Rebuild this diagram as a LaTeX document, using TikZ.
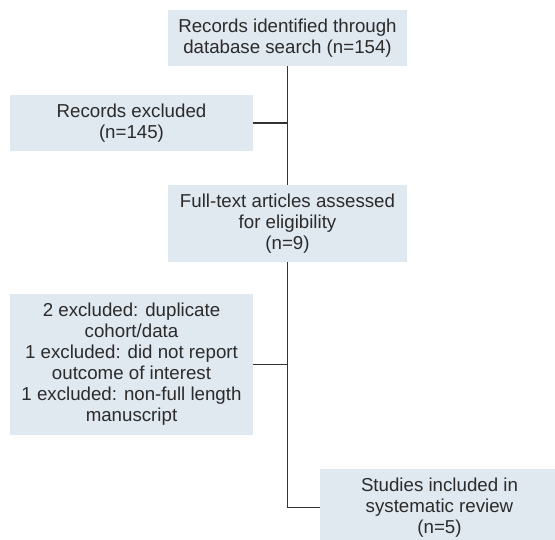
\documentclass[tikz,border=0pt]{standalone}
\usepackage{fontspec}
\setmainfont{Liberation Sans}
\definecolor{boxfill}{HTML}{E0E8F0}
\definecolor{ink}{HTML}{2B2B2B}
\definecolor{linec}{HTML}{333333}
\begin{document}
\begin{tikzpicture}[x=1pt,y=-1pt,
  flowbox/.style={rectangle, fill=boxfill, draw=none, inner sep=0pt, align=center,
    text=ink, font=\fontsize{18.7pt}{21pt}\selectfont},
  link/.style={draw=linec, line width=1.4pt}]
\useasboundingbox (0,0) rectangle (555,539);
\begin{scope}
\clip (0,0) rectangle (555,539);
\node[flowbox, minimum width=239pt, minimum height=56pt] (b1) at (287.5,38) {Records identified through\\database search (n=154)};
\node[flowbox, minimum width=243pt, minimum height=56pt] (b2) at (131.5,123) {Records excluded\\(n=145)};
\node[flowbox, minimum width=239pt, minimum height=77pt] (b3) at (287.5,223.5) {Full-text articles assessed\\for eligibility\\(n=9)};
\node[flowbox, minimum width=243pt, minimum height=141pt] (b4) at (131.5,364.5) {2 excluded: duplicate\\cohort/data\\1 excluded: did not report\\outcome of interest\\1 excluded: non-full length\\manuscript};
\node[flowbox, minimum width=239pt, minimum height=77pt] (b5) at (439.5,507.5) {Studies included in\\systematic review\\(n=5)};
\draw[link] (b1.south) -- (b3.north);
\draw[link] (b3.south) |- (b5.west);
\draw[link] (b2.east) -- (b2.east -| b1.south);
\draw[link] (b4.east) -- (b4.east -| b3.south);
\end{scope}
\end{tikzpicture}
\end{document}
